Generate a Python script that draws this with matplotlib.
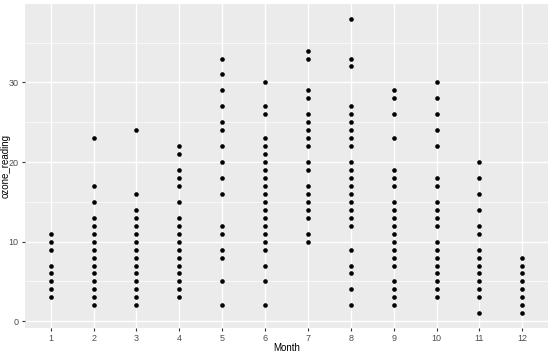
import matplotlib
matplotlib.use("Agg")
import matplotlib.pyplot as plt
import numpy as np

plt.rcParams['font.family'] = ['Liberation Sans', 'DejaVu Sans']

# ozone readings per month
m1 = [3, 4, 5, 6, 7, 9, 10, 11]
m2 = [2, 3, 4, 5, 6, 7, 8, 9, 10, 11, 12, 13, 15, 17, 23]
m3 = [2, 3, 4, 5, 6, 7, 8, 9, 10, 11, 12, 13, 14, 16, 24]
m4 = [3, 4, 5, 6, 7, 8, 9, 10, 11, 12, 13, 15, 17, 18, 19, 21, 22]
m5 = [2, 5, 8, 9, 11, 12, 16, 18, 20, 22, 24, 25, 27, 29, 31, 33]
m6 = [2, 5, 7, 9, 10, 11, 12, 13, 14, 15, 16, 17, 18, 19, 20, 21, 22, 23, 26, 27, 30]
m7 = [10, 11, 13, 14, 15, 16, 17, 19, 20, 22, 23, 24, 25, 26, 28, 29, 33, 34]
m8 = [2, 4, 6, 7, 9, 12, 13, 14, 15, 16, 17, 18, 19, 20, 22, 23, 24, 25, 26, 27, 32, 33, 38]
m9 = [2, 3, 4, 5, 7, 8, 9, 10, 11, 12, 13, 14, 15, 17, 18, 19, 23, 26, 28, 29]
m10 = [3, 4, 5, 6, 7, 8, 9, 10, 12, 13, 14, 15, 17, 18, 22, 24, 26, 28, 30]
m11 = [1, 3, 4, 5, 6, 7, 8, 9, 11, 12, 14, 16, 18, 20]
m12 = [1, 2, 3, 4, 5, 6, 7, 8]

readings = [m1, m2, m3, m4, m5, m6, m7, m8, m9, m10, m11, m12]
months = list(range(1, 13))

fig = plt.figure(figsize=(5.54, 3.53), dpi=100)
ax = fig.add_axes([25 / 554, 25 / 353, 523 / 554, 324 / 353])
ax.set_facecolor('#EBEBEB')

x = []
y = []
for mon, vals in zip(months, readings):
    x += [mon] * len(vals)
    y += vals
ax.scatter(x, y, s=11, color='black', linewidths=0, zorder=3)

ax.set_xlim(0.4, 12.6)
ax.set_ylim(-0.85, 39.85)
ax.set_xticks(months)
ax.set_yticks([0, 10, 20, 30])
ax.set_yticks([5, 15, 25, 35], minor=True)

ax.grid(True, which='major', color='white', linewidth=1.0, zorder=0)
ax.grid(True, which='minor', axis='y', color='white', linewidth=0.5, zorder=0)
ax.set_axisbelow(True)
for s in ax.spines.values():
    s.set_visible(False)

ax.tick_params(which='major', length=2.5, width=0.8, color='#333333',
               labelsize=6.5, labelcolor='#4D4D4D', pad=2)
ax.tick_params(which='minor', length=0)

ax.set_xlabel('Month', fontsize=7, color='black', va='center')
ax.set_ylabel('ozone_reading', fontsize=7, color='black', va='center')
ax.xaxis.set_label_coords(0.5, -0.061)
ax.yaxis.set_label_coords(-0.038, 0.5)

fig.savefig('out.png', dpi=100)
